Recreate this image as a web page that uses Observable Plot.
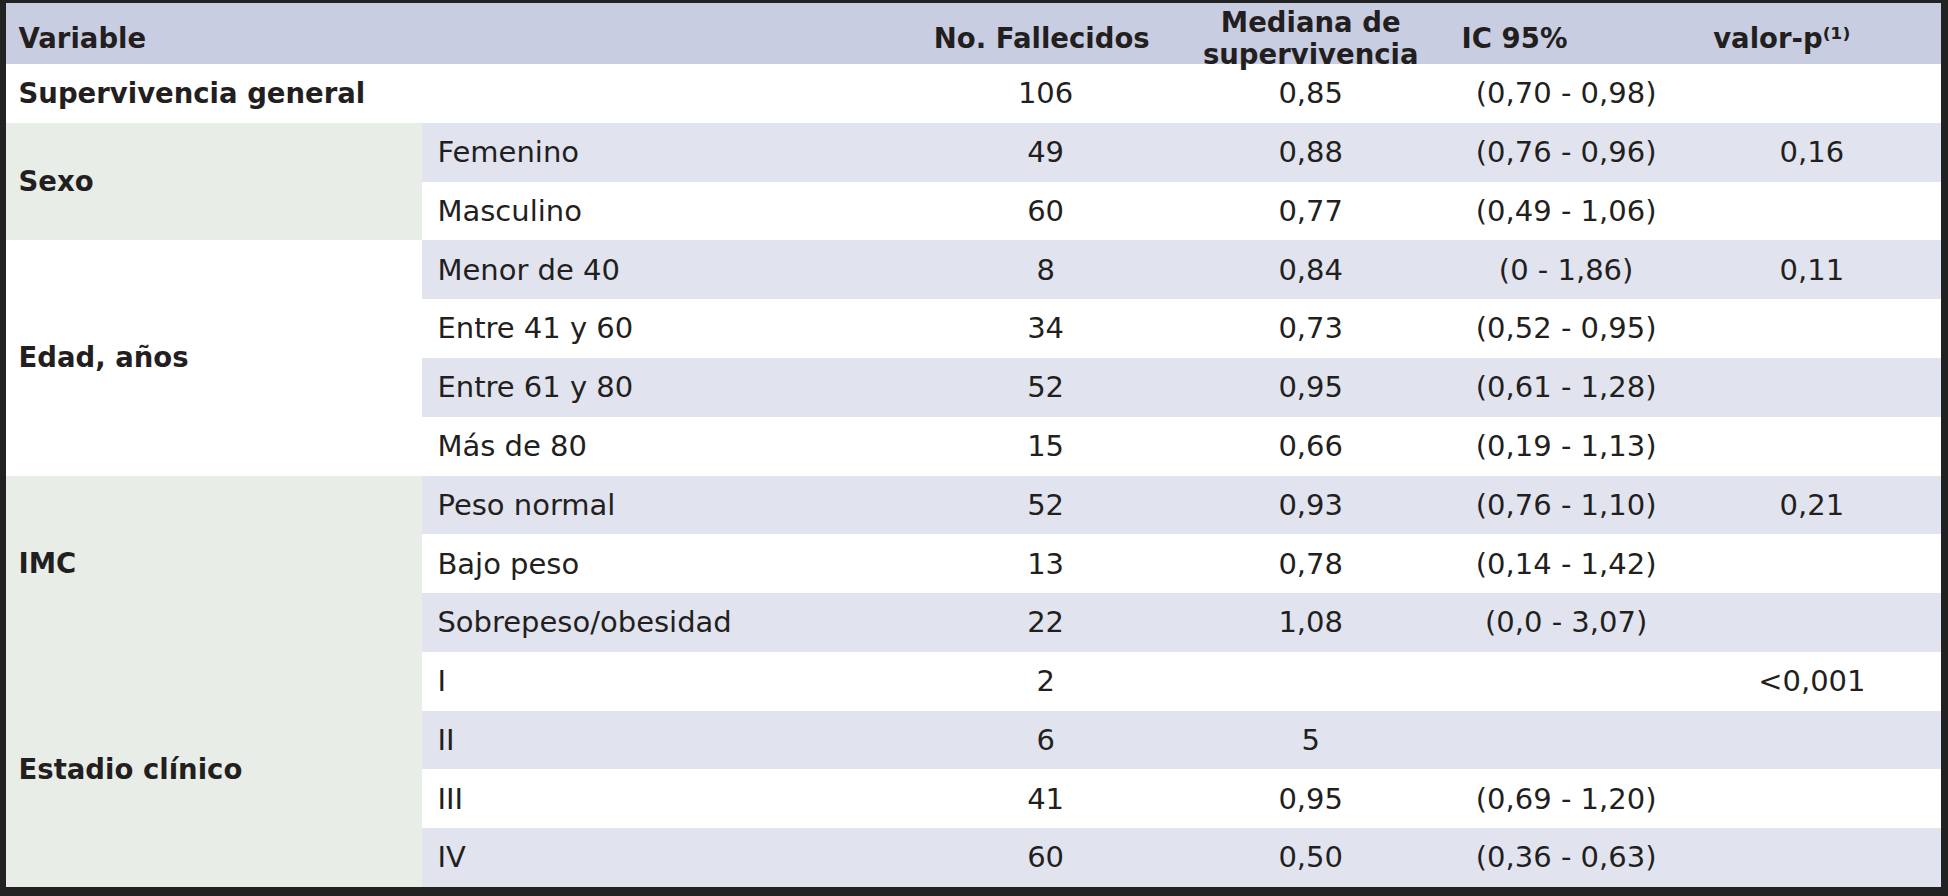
<!DOCTYPE html>
<html>
<head>
<meta charset="utf-8">
<script src="https://cdn.jsdelivr.net/npm/d3@7"></script>
<script src="https://cdn.jsdelivr.net/npm/@observablehq/plot@0.6"></script>
<style>
  html, body { margin: 0; padding: 0; background: #ffffff; }
  #chart svg { display: block; }
</style>
</head>
<body>
<div id="chart"></div>
<script>
// ---------- data ----------
const headers = ["Variable", "No. Fallecidos", "Mediana de\nsupervivencia", "IC 95%", "valor-p⁽¹⁾"];
const groupLabels = ["Supervivencia general", "Sexo", "Edad, años", "IMC", "Estadio clínico"];
const groupSizes  = [1, 2, 4, 3, 4];
const subLabels = ["", "Femenino", "Masculino", "Menor de 40", "Entre 41 y 60", "Entre 61 y 80", "Más de 80",
                   "Peso normal", "Bajo peso", "Sobrepeso/obesidad", "I", "II", "III", "IV"];
const fallecidos = [106, 49, 60, 8, 34, 52, 15, 52, 13, 22, 2, 6, 41, 60];
const mediana = ["0,85", "0,88", "0,77", "0,84", "0,73", "0,95", "0,66", "0,93", "0,78", "1,08", "", "5", "0,95", "0,50"];
const ic95 = ["(0,70 - 0,98)", "(0,76 - 0,96)", "(0,49 - 1,06)", "(0 - 1,86)", "(0,52 - 0,95)", "(0,61 - 1,28)",
              "(0,19 - 1,13)", "(0,76 - 1,10)", "(0,14 - 1,42)", "(0,0 - 3,07)", "", "", "(0,69 - 1,20)", "(0,36 - 0,63)"];
const valorP = ["", "0,16", "", "0,11", "", "", "", "0,21", "", "", "<0,001", "", "", ""];

// ---------- layout / style ----------
const W = 1948, H = 896;
const colX = {group: 0.62, subStart: 21.5, sub: 22.27, fall: 53.7, med: 67.4, ic: 80.6, p: 93.3,
              hFall: 53.5, hMed: 67.4, hIc: 75.2, hP: 88.2};
const headerTop = -1.04;
const headerY = -0.45;
const colors = {border: "#222222", header: "#c9cde1", light: "#e1e3ee", white: "#ffffff",
                green: "#e8ede8", text: "#231f20"};
const groupFill = {"Sexo": colors.green, "Edad, años": colors.white, "IMC": colors.green, "Estadio clínico": colors.green};
const fsBold = 27.5, fsReg = 29;

// ---------- derived tables ----------
const rows = subLabels.map((s, i) => ({
  i, sub: s, fall: String(fallecidos[i]), med: mediana[i], ic: ic95[i], p: valorP[i]
}));
let start = 0;
const groups = groupLabels.map((g, k) => {
  const o = {label: g, start, n: groupSizes[k]};
  start += groupSizes[k];
  return o;
});
const nRows = rows.length;

const headerCells = [
  {text: headers[0], x: colX.group, anchor: "start"},
  {text: headers[1], x: colX.hFall, anchor: "middle"},
  {text: headers[2], x: colX.hMed, anchor: "middle"},
  {text: headers[3], x: colX.hIc, anchor: "start"},
  {text: headers[4], x: colX.hP, anchor: "start"}
];

const plot = Plot.plot({
  width: W,
  height: H,
  margin: 0,
  style: {background: colors.border, fontFamily: "'DejaVu Sans', sans-serif", color: colors.text},
  x: {type: "linear", domain: [0, 100], range: [6, 1941], axis: null},
  y: {type: "linear", domain: [headerTop, nRows], range: [3, 887], axis: null},
  marks: [
    // white table body (covers seams)
    Plot.rect([0], {x1: 0, x2: 100, y1: 0, y2: nRows, fill: colors.white, inset: 0, shapeRendering: "crispEdges"}),
    // header band
    Plot.rect([0], {x1: 0, x2: 100, y1: headerTop, y2: 0, fill: colors.header, inset: 0, shapeRendering: "crispEdges"}),
    // row bands
    Plot.rect(rows, {
      x1: d => d.i === 0 ? 0 : colX.subStart, x2: 100,
      y1: d => d.i, y2: d => d.i + 1,
      fill: d => d.i % 2 === 1 ? colors.light : colors.white, inset: 0, shapeRendering: "crispEdges"
    }),
    // group cells
    Plot.rect(groups.filter(g => g.start > 0), {
      x1: 0, x2: colX.subStart,
      y1: d => d.start, y2: d => d.start + d.n,
      fill: d => groupFill[d.label], inset: 0, shapeRendering: "crispEdges"
    }),
    // header texts
    ...headerCells.map(h => Plot.text([h], {
      x: "x", y: () => headerY, text: "text", textAnchor: h.anchor,
      fontWeight: "bold", fontSize: fsBold, fill: colors.text, lineAnchor: "middle", lineHeight: 1.16
    })),
    // group labels
    Plot.text(groups, {
      x: () => colX.group, y: d => d.start + d.n / 2, text: "label", textAnchor: "start",
      fontWeight: "bold", fontSize: fsBold, fill: colors.text, lineAnchor: "middle"
    }),
    // sub labels and values
    Plot.text(rows, {x: () => colX.sub, y: d => d.i + 0.5, text: "sub", textAnchor: "start",
      fontSize: fsReg, fill: colors.text, lineAnchor: "middle"}),
    Plot.text(rows, {x: () => colX.fall, y: d => d.i + 0.5, text: "fall", textAnchor: "middle",
      fontSize: fsReg, fill: colors.text, lineAnchor: "middle"}),
    Plot.text(rows, {x: () => colX.med, y: d => d.i + 0.5, text: "med", textAnchor: "middle",
      fontSize: fsReg, fill: colors.text, lineAnchor: "middle"}),
    Plot.text(rows, {x: () => colX.ic, y: d => d.i + 0.5, text: "ic", textAnchor: "middle",
      fontSize: fsReg, fill: colors.text, lineAnchor: "middle"}),
    Plot.text(rows, {x: () => colX.p, y: d => d.i + 0.5, text: "p", textAnchor: "middle",
      fontSize: fsReg, fill: colors.text, lineAnchor: "middle"})
  ]
});
document.getElementById("chart").appendChild(plot);
</script>
</body>
</html>
